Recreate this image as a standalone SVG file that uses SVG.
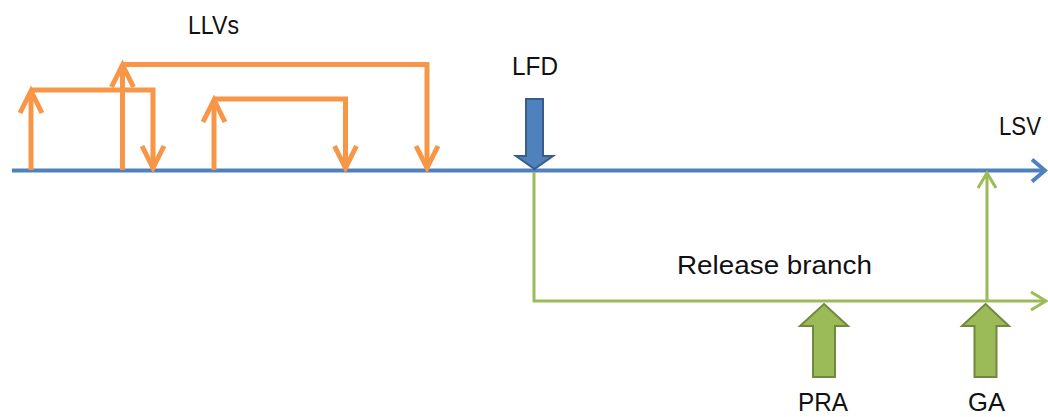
<svg xmlns="http://www.w3.org/2000/svg" width="1048" height="417" viewBox="0 0 1048 417">
  <style>
    .lbl { font-family: "Liberation Sans", Arial, sans-serif; font-size: 25px; fill: #111; }
    .llv { fill: none; stroke: #F79646; stroke-width: 5; stroke-linejoin: miter; }
    .trunk { fill: none; stroke: #4F81BD; stroke-width: 4; }
    .branch { fill: none; stroke: #9BBB59; stroke-width: 3; }
    .blockBlue { fill: #4F81BD; stroke: #385D8A; stroke-width: 2; }
    .blockGreen { fill: #9BBB59; stroke: #71893F; stroke-width: 2; }
  </style>
  <defs>
    <marker id="chevOrange" markerUnits="userSpaceOnUse" orient="auto" overflow="visible" refX="0" refY="0" markerWidth="1" markerHeight="1">
      <path d="M-22,-11 L0,0 L-22,11" fill="none" stroke="#F79646" stroke-width="5"/>
    </marker>
    <marker id="chevBlue" markerUnits="userSpaceOnUse" orient="auto" overflow="visible" refX="0" refY="0" markerWidth="1" markerHeight="1">
      <path d="M-13,-11 L0,0 L-13,11" fill="none" stroke="#4F81BD" stroke-width="4"/>
    </marker>
    <marker id="chevGreen" markerUnits="userSpaceOnUse" orient="auto" overflow="visible" refX="0" refY="0" markerWidth="1" markerHeight="1">
      <path d="M-15,-9 L0,0 L-15,9" fill="none" stroke="#9BBB59" stroke-width="3"/>
    </marker>
  </defs>

  <g id="connectors">
    <!-- main line -->
    <path class="trunk" d="M12,170.5 H1045" marker-end="url(#chevBlue)"/>
    <!-- LLV merges -->
    <path class="llv" d="M31,170 V91" marker-end="url(#chevOrange)"/>
    <path class="llv" d="M31,90 H153 V168" marker-end="url(#chevOrange)"/>
    <path class="llv" d="M122.5,170 V65" marker-end="url(#chevOrange)"/>
    <path class="llv" d="M122.5,64.5 H427 V168" marker-end="url(#chevOrange)"/>
    <path class="llv" d="M214,170 V100" marker-end="url(#chevOrange)"/>
    <path class="llv" d="M214,99 H345.5 V168" marker-end="url(#chevOrange)"/>
    <!-- release branch -->
    <path class="branch" d="M534,172 V301 H1046" marker-end="url(#chevGreen)"/>
    <path class="branch" d="M987,301 V173" marker-end="url(#chevGreen)"/>
  </g>

  <g id="node-llvs">
    <text class="lbl" x="188" y="34" textLength="51" lengthAdjust="spacingAndGlyphs">LLVs</text>
  </g>

  <g id="node-lfd">
    <text class="lbl" x="512" y="75" textLength="46" lengthAdjust="spacingAndGlyphs">LFD</text>
    <polygon class="blockBlue" points="526,99 543,99 543,156 553,156 534.5,169 516,156 526,156"/>
  </g>

  <g id="node-lsv">
    <text class="lbl" x="999" y="135" textLength="42" lengthAdjust="spacingAndGlyphs">LSV</text>
  </g>

  <g id="node-release">
    <text class="lbl" x="677" y="274" textLength="195" lengthAdjust="spacingAndGlyphs">Release branch</text>
  </g>

  <g id="node-pra">
    <polygon class="blockGreen" points="824,304 848,326 835,326 835,377 813,377 813,326 800,326"/>
    <text class="lbl" x="798" y="411" textLength="50" lengthAdjust="spacingAndGlyphs">PRA</text>
  </g>

  <g id="node-ga">
    <polygon class="blockGreen" points="985.5,304 1009,326 996.5,326 996.5,377 974.5,377 974.5,326 962,326"/>
    <text class="lbl" x="968" y="411" textLength="37" lengthAdjust="spacingAndGlyphs">GA</text>
  </g>
</svg>
